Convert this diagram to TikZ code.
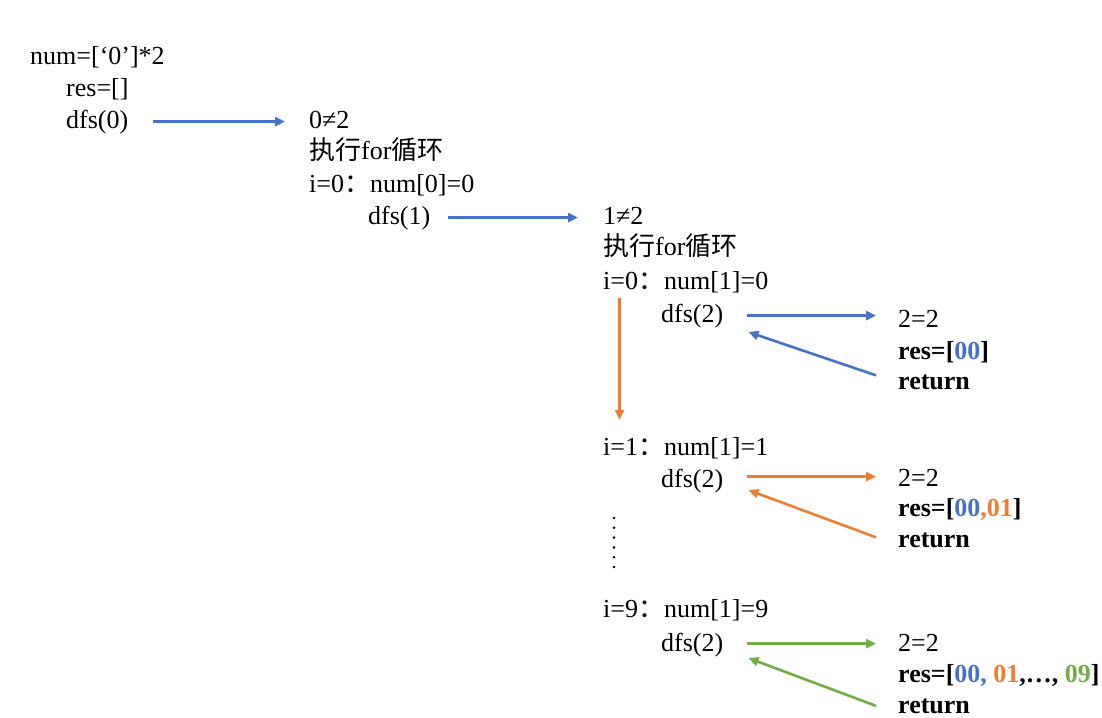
\documentclass[tikz,border=0pt]{standalone}
\usepackage{fontspec}
\setmainfont{Liberation Serif}
\newfontfamily\cjk{Noto Sans CJK SC}
\usepackage{xcolor}
\usetikzlibrary{positioning,calc,arrows.meta}
\definecolor{wblue}{HTML}{4472C4}
\definecolor{worange}{HTML}{ED7D31}
\definecolor{wgreen}{HTML}{70AD47}

\begin{document}
\begin{tikzpicture}[x=1pt, y=-1pt, >={Triangle[length=10pt,width=9pt]}, txt/.style={anchor=base west, inner sep=0pt, font=\fontsize{26}{32}\selectfont}, bld/.style={txt, font=\fontsize{26}{32}\selectfont\bfseries}, call/.style={->, line width=2.6pt}]

\useasboundingbox (0,0) rectangle (1102,717);

% top level
\node[txt] (num) at (30,64) {num=[‘0’]*2};
\node[txt] (res) at (66,96) {res=[]};
\node[txt] (d0) at (66,128) {dfs(0)};

% dfs(0)
\node[txt] (c0) at (309,128) {0≠2};
\node[txt] (f0) at (309,159) {{\cjk 执行}for{\cjk 循环}};
\node[txt] (i0) at (309,192) {i=0{\cjk ：}num[0]=0};
\node[txt] (d1) at (368,224) {dfs(1)};

% dfs(1)
\node[txt] (c1) at (603,224) {1≠2};
\node[txt] (f1) at (603,255) {{\cjk 执行}for{\cjk 循环}};
\node[txt] (i10) at (603,289) {i=0{\cjk ：}num[1]=0};
\node[txt] (d20) at (661,322) {dfs(2)};
\node[txt] (i11) at (603,455) {i=1{\cjk ：}num[1]=1};
\node[txt] (d21) at (661,487) {dfs(2)};
\node[txt] (i19) at (603,617) {i=9{\cjk ：}num[1]=9};
\node[txt] (d29) at (661,651) {dfs(2)};

% dfs(2)
\node[txt] (e0) at (898,327) {2=2};
\node[bld] (r0) at (898,359) {res=[\textcolor{wblue}{00}]};
\node[bld] (t0) at (898,389) {return};
\node[txt] (e1) at (898,486) {2=2};
\node[bld] (r1) at (898,516) {res=[\textcolor{wblue}{00}\textcolor{worange}{,01}]};
\node[bld] (t1) at (898,547) {return};
\node[txt] (e2) at (898,651) {2=2};
\node[bld] (r2) at (898,682) {res=[\textcolor{wblue}{00,} \textcolor{worange}{01},…, \textcolor{wgreen}{09}]};
\node[bld] (t2) at (898,713) {return};

\foreach \k in {0,...,5}
  \fill (614,518+\k*9.8) circle (1.4pt);

\draw[call, wblue, shorten <=25pt, shorten >=24pt] (d0.east) -- (d0.east -| c0.west);
\draw[call, wblue, shorten <=18pt, shorten >=25pt] (d1.east) -- (d1.east -| c1.west);
\draw[call, worange, line width=2.8pt, shorten <=5pt, shorten >=17pt] ([xshift=16.5pt]i10.south west) -- ([xshift=16.5pt]i11.north west);

\draw[call, wblue] ([xshift=23pt]d20.east) -- ([xshift=-22pt]d20.east -| e0.west);
\draw[call, wblue] ([xshift=-22pt,yshift=6.5pt]t0.west) -- ([xshift=25pt,yshift=-16.5pt]d20.east);
\draw[call, worange] ([xshift=23pt,yshift=4pt]d21.east) -- ([xshift=-22pt,yshift=4pt]d21.east -| e1.west);
\draw[call, worange] ([xshift=-22pt,yshift=2.5pt]t1.west) -- ([xshift=25pt,yshift=-9.5pt]d21.east);
\draw[call, wgreen] ([xshift=23pt,yshift=1pt]d29.east) -- ([xshift=-22pt,yshift=1pt]d29.east -| e2.west);
\draw[call, wgreen] ([xshift=-22pt]t2.west) -- ([xshift=25pt,yshift=-13.5pt]d29.east);
\end{tikzpicture}
\end{document}
